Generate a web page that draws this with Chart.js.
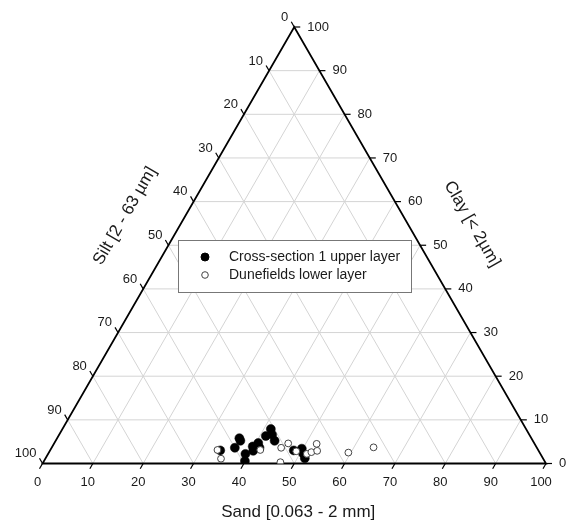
<!DOCTYPE html>
<html>
<head>
<meta charset="utf-8">
<script src="https://cdn.jsdelivr.net/npm/chart.js@4/dist/chart.umd.min.js"></script>
<style>
html,body{margin:0;padding:0;background:#fff;}
canvas{display:block;}
</style>
</head>
<body>
<canvas id="c" width="566" height="524"></canvas>
<script>
// ---- data (percent) ----
const seriesNames = ["Cross-section 1 upper layer", "Dunefields lower layer"];
const sandUpper = [33.8,36.4,36.2,36.7,39.9,39.2,39.8,40.4,40.5,41.3,41.2,41.4,42.3,43.5,48.4,49.8,50.6,51.5];
const clayUpper = [3.0,3.6,5.8,5.2,0.6,2.2,3.9,2.9,4.7,3.6,6.3,7.9,6.6,5.2,3.0,3.4,2.3,1.2];
const sandLower = [33.2,34.9,41.7,45.6,46.5,47.1,49.0,51.4,52.1,52.2,53.1,59.5,63.9];
const clayLower = [3.1,1.1,3.1,3.6,4.6,0.3,2.8,2.2,2.6,4.5,2.9,2.5,3.7];
const tickValues = [0,10,20,30,40,50,60,70,80,90,100];
const axisTitles = { sand: "Sand [0.063 - 2 mm]", silt: "Silt [2 - 63 \u00b5m]", clay: "Clay [< 2\u00b5m]" };

const H = Math.sqrt(3) / 2;
function toXY(sand, clay) {
  return sand.map((s, i) => ({ x: s + clay[i] / 2, y: clay[i] * H }));
}

const FONT = '"Liberation Sans", Arial, sans-serif';
const TXT = '#1a1a1a';

function tp(chart, s, c) {
  return [chart.scales.x.getPixelForValue(s + c / 2), chart.scales.y.getPixelForValue(c * H)];
}

const ternaryPlugin = {
  id: 'ternary',
  beforeDatasetsDraw(chart) {
    const ctx = chart.ctx;
    ctx.save();
    // grid
    ctx.strokeStyle = '#d4d4d4';
    ctx.lineWidth = 1;
    ctx.beginPath();
    tickValues.forEach(v => {
      if (v === 0 || v === 100) return;
      let a, b;
      a = tp(chart, 0, v); b = tp(chart, 100 - v, v);
      ctx.moveTo(a[0], a[1]); ctx.lineTo(b[0], b[1]);
      a = tp(chart, v, 0); b = tp(chart, v, 100 - v);
      ctx.moveTo(a[0], a[1]); ctx.lineTo(b[0], b[1]);
      a = tp(chart, 100 - v, 0); b = tp(chart, 0, 100 - v);
      ctx.moveTo(a[0], a[1]); ctx.lineTo(b[0], b[1]);
    });
    ctx.stroke();
    // triangle
    const L = tp(chart, 0, 0), R = tp(chart, 100, 0), T = tp(chart, 0, 100);
    ctx.strokeStyle = '#000';
    ctx.lineWidth = 1.8;
    ctx.beginPath();
    ctx.moveTo(L[0], L[1]); ctx.lineTo(R[0], R[1]); ctx.lineTo(T[0], T[1]); ctx.closePath();
    ctx.stroke();
    // ticks + labels
    const tl = 6;
    ctx.lineWidth = 1.2;
    ctx.fillStyle = TXT;
    ctx.font = '13px ' + FONT;
    tickValues.forEach(v => {
      // sand (bottom)
      let p = tp(chart, v, 0);
      ctx.beginPath();
      ctx.moveTo(p[0], p[1]); ctx.lineTo(p[0] - tl * 0.5, p[1] + tl * H);
      ctx.stroke();
      ctx.textAlign = 'center'; ctx.textBaseline = 'middle';
      ctx.fillText(String(v), p[0] - 5, p[1] + 18.5);
      // silt (left)
      p = tp(chart, 0, 100 - v);
      const ex = p[0] - tl * 0.5, ey = p[1] - tl * H;
      ctx.beginPath();
      ctx.moveTo(p[0], p[1]); ctx.lineTo(ex, ey);
      ctx.stroke();
      ctx.textAlign = 'right';
      ctx.fillText(String(v), ex - 3, ey - 4.5);
      // clay (right)
      p = tp(chart, 100 - v, v);
      ctx.beginPath();
      ctx.moveTo(p[0], p[1]); ctx.lineTo(p[0] + tl, p[1]);
      ctx.stroke();
      ctx.textAlign = 'left';
      ctx.fillText(String(v), p[0] + tl + 7, p[1]);
    });
    // axis titles
    ctx.font = '17px ' + FONT;
    ctx.textAlign = 'center'; ctx.textBaseline = 'middle';
    ctx.fillText(axisTitles.sand, (L[0] + R[0]) / 2 + 4, L[1] + 49);
    ctx.save();
    ctx.translate(125, 216);
    ctx.rotate(-Math.PI / 3);
    ctx.fillText(axisTitles.silt, 0, 0);
    ctx.restore();
    ctx.save();
    ctx.translate(472, 224);
    ctx.rotate(Math.PI / 3);
    ctx.fillText(axisTitles.clay, 0, 0);
    ctx.restore();
    ctx.restore();
  },
  afterDatasetsDraw(chart) {
    const ctx = chart.ctx;
    ctx.save();
    const bx = 178.5, by = 240.5, bw = 233, bh = 52;
    ctx.fillStyle = '#fff';
    ctx.fillRect(bx, by, bw, bh);
    ctx.strokeStyle = '#777';
    ctx.lineWidth = 1;
    ctx.strokeRect(bx, by, bw, bh);
    ctx.font = '14px ' + FONT;
    ctx.textAlign = 'left'; ctx.textBaseline = 'middle';
    chart.data.datasets.forEach((ds, i) => {
      const y = 257 + i * 18;
      ctx.beginPath();
      ctx.arc(205, y, i === 0 ? 4 : 3.3, 0, Math.PI * 2);
      ctx.fillStyle = ds.backgroundColor;
      ctx.fill();
      ctx.lineWidth = 1;
      ctx.strokeStyle = ds.borderColor;
      ctx.stroke();
      ctx.fillStyle = TXT;
      ctx.fillText(ds.label, 229, y + 0.5);
    });
    ctx.restore();
  }
};

new Chart(document.getElementById('c'), {
  type: 'scatter',
  data: {
    datasets: [
      { label: seriesNames[0], data: toXY(sandUpper, clayUpper), order: 1,
        backgroundColor: '#000', borderColor: '#000', borderWidth: 0.5, pointRadius: 4.5, pointHoverRadius: 4.5 },
      { label: seriesNames[1], data: toXY(sandLower, clayLower), order: 0,
        backgroundColor: '#fff', borderColor: '#444', borderWidth: 1, pointRadius: 3.4, pointHoverRadius: 3.4 }
    ]
  },
  options: {
    responsive: false,
    animation: false,
    devicePixelRatio: 1,
    layout: { padding: { left: 42.5, right: 20, top: 27, bottom: 60.5 } },
    scales: {
      x: { type: 'linear', min: 0, max: 100, display: false },
      y: { type: 'linear', min: 0, max: 100 * H, display: false }
    },
    plugins: { legend: { display: false }, tooltip: { enabled: false } },
    events: []
  },
  plugins: [ternaryPlugin]
});
</script>
</body>
</html>
